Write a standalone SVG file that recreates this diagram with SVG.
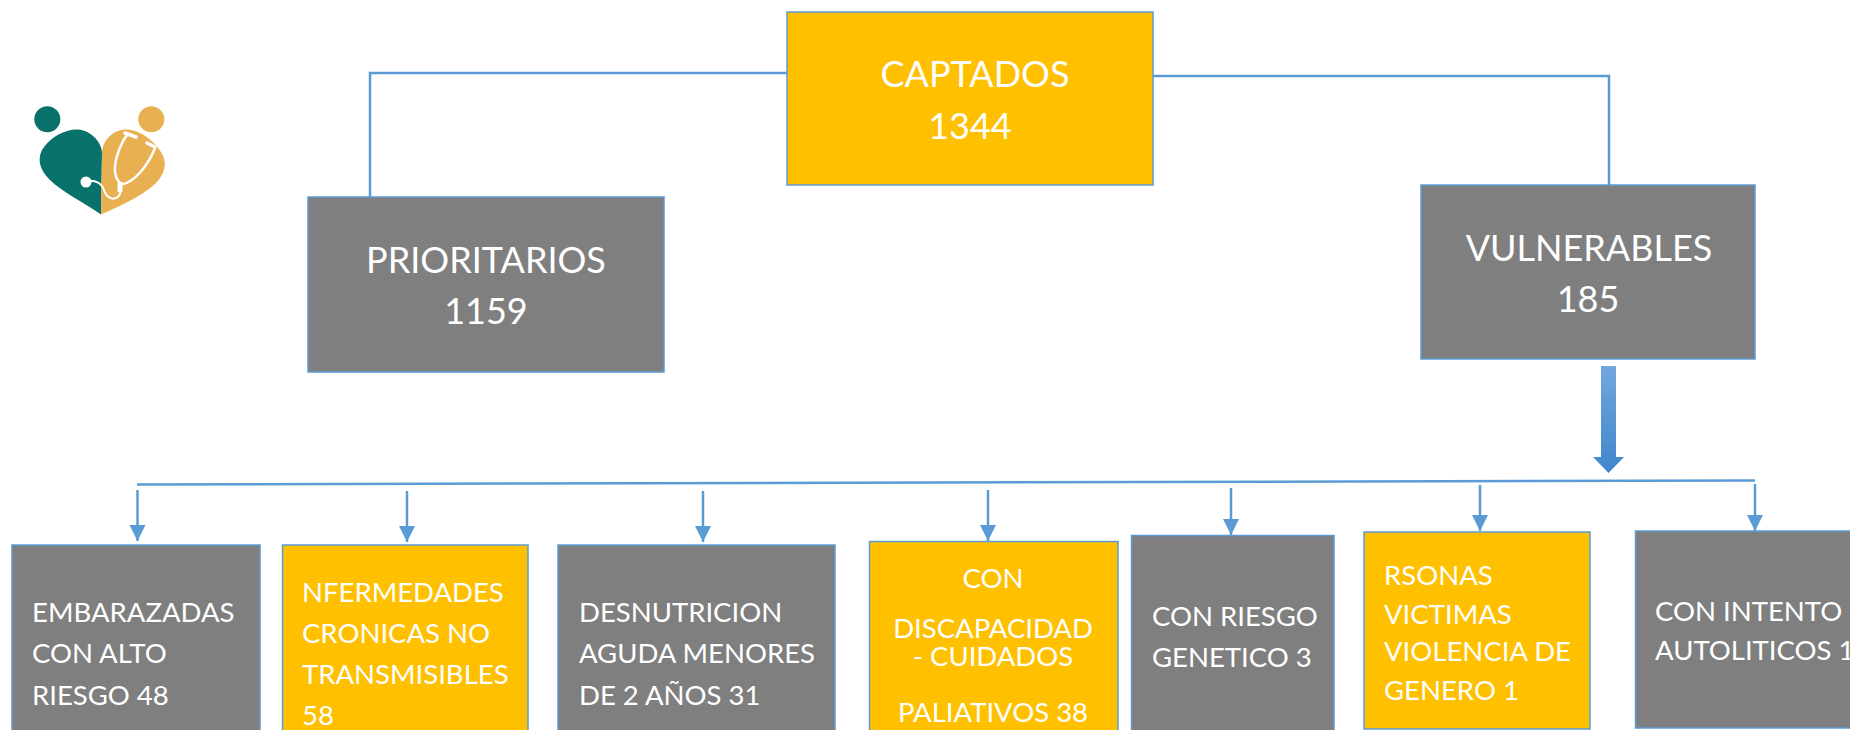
<svg xmlns="http://www.w3.org/2000/svg" width="1850" height="730" viewBox="0 0 1850 730">
<style>
text{font-family:Lato,"Open Sans","Liberation Sans",sans-serif;fill:#fff}
.g{fill:#7f7f7f;stroke:#5b9bd5;stroke-width:1.5}
.y{fill:#ffc000;stroke:#5b9bd5;stroke-width:1.5}
.big{font-size:36px;text-anchor:middle}
.sm{font-size:27.5px}
.c{text-anchor:middle}
.ln{fill:none;stroke:#5b9bd5;stroke-width:2.5}
.ar{fill:none;stroke:#5b9bd5;stroke-width:2.5;marker-end:url(#h)}
</style>
<defs>
<marker id="h" markerUnits="userSpaceOnUse" markerWidth="16" markerHeight="17" refX="16" refY="8" orient="auto"><path d="M0 0L16 8L0 16Z" fill="#5b9bd5"/></marker>
<linearGradient id="bg" x1="0" y1="0" x2="0" y2="1"><stop offset="0" stop-color="#72a7dd"/><stop offset="1" stop-color="#3f86cc"/></linearGradient>
</defs>
<rect width="1850" height="730" fill="#fff"/>
<g id="logo">
<circle cx="47.3" cy="119.3" r="13" fill="#07716a"/>
<circle cx="151.3" cy="119.3" r="13" fill="#e9b052"/>
<path d="M101 214.5C85 203 62 192 50 180C40 170 37 160 42 150C50 137 65 129 78 129.5C90 130 102 142 102 153Z" fill="#07716a"/>
<path d="M101 214.5C115 208 140 198 155 184C165 174 168 163 161 152C153 139 138 129 125 129.5C112 130 102 142 102 153Z" fill="#e9b052"/>
<g fill="none" stroke="#fff" stroke-linecap="round">
<path d="M128 134C121 142 114 160 115 172C116 180 120 184 123 184C134 182 148 166 155 148" stroke-width="2.5"/>
<path d="M125 133L136 137M147 143L155 147" stroke-width="3.5"/>
<path d="M120 184L120 190" stroke-width="5"/>
<path d="M86 181C96 180 102 184 104 190C106 197 112 200 116 198C120 196 121 193 120 189" stroke-width="2"/>
</g>
<circle cx="86" cy="182" r="5.5" fill="#fff"/>
</g>
<g id="connectors">
<path class="ln" d="M787 73H370V197"/>
<path class="ln" d="M1153 76H1609V185"/>
<path class="ln" d="M137 484.5L1755 480.5"/>
<path class="ar" d="M137.5 490V541"/>
<path class="ar" d="M407 491V542"/>
<path class="ar" d="M703 491V542"/>
<path class="ar" d="M988 490V541"/>
<path class="ar" d="M1231 488V535"/>
<path class="ar" d="M1480 485V531"/>
<path class="ar" d="M1755 484V531"/>
<path d="M1601 366H1616V457H1624L1608.500 473L1593 457H1601Z" fill="url(#bg)"/>
</g>
<g id="captados"><rect class="y" x="787" y="12" width="366" height="173"/><text class="big" x="975" y="87">CAPTADOS</text><text class="big" x="970" y="139">1344</text></g>
<g id="prioritarios"><rect class="g" x="308" y="197" width="356" height="175"/><text class="big" x="486" y="273">PRIORITARIOS</text><text class="big" x="486" y="324">1159</text></g>
<g id="vulnerables"><rect class="g" x="1421" y="185" width="334" height="174"/><text class="big" x="1589" y="261">VULNERABLES</text><text class="big" x="1588" y="312">185</text></g>
<g id="embarazadas"><rect class="g" x="12" y="545" width="248" height="200"/><text class="sm" x="32"><tspan x="32" y="622">EMBARAZADAS</tspan><tspan x="32" y="663">CON ALTO</tspan><tspan x="32" y="705">RIESGO 48</tspan></text></g>
<g id="cronicas"><rect class="y" x="282.500" y="545" width="245.500" height="200"/><text class="sm"><tspan x="302" y="602">NFERMEDADES</tspan><tspan x="302" y="643">CRONICAS NO</tspan><tspan x="302" y="684">TRANSMISIBLES</tspan><tspan x="302" y="725">58</tspan></text></g>
<g id="desnutricion"><rect class="g" x="558" y="545" width="277" height="200"/><text class="sm"><tspan x="579" y="622">DESNUTRICION</tspan><tspan x="579" y="663">AGUDA MENORES</tspan><tspan x="579" y="705">DE 2 AÑOS  31</tspan></text></g>
<g id="discapacidad"><rect class="y" x="869.500" y="541.500" width="248.500" height="200"/><text class="sm c"><tspan x="993" y="588">CON</tspan><tspan x="993" y="638">DISCAPACIDAD</tspan><tspan x="993" y="666">- CUIDADOS</tspan><tspan x="993" y="722">PALIATIVOS 38</tspan></text></g>
<g id="genetico"><rect class="g" x="1131.500" y="535.500" width="202.500" height="206"/><text class="sm"><tspan x="1152" y="626">CON RIESGO</tspan><tspan x="1152" y="667">GENETICO 3</tspan></text></g>
<g id="violencia"><rect class="y" x="1364" y="532" width="226" height="197"/><text class="sm"><tspan x="1384" y="585">RSONAS</tspan><tspan x="1384" y="624">VICTIMAS</tspan><tspan x="1384" y="661">VIOLENCIA DE</tspan><tspan x="1384" y="700">GENERO 1</tspan></text></g>
<g id="autoliticos"><rect class="g" x="1635.500" y="531" width="230" height="197"/><text class="sm"><tspan x="1655" y="621">CON INTENTO</tspan><tspan x="1655" y="660">AUTOLITICOS 1</tspan></text></g>
</svg>
